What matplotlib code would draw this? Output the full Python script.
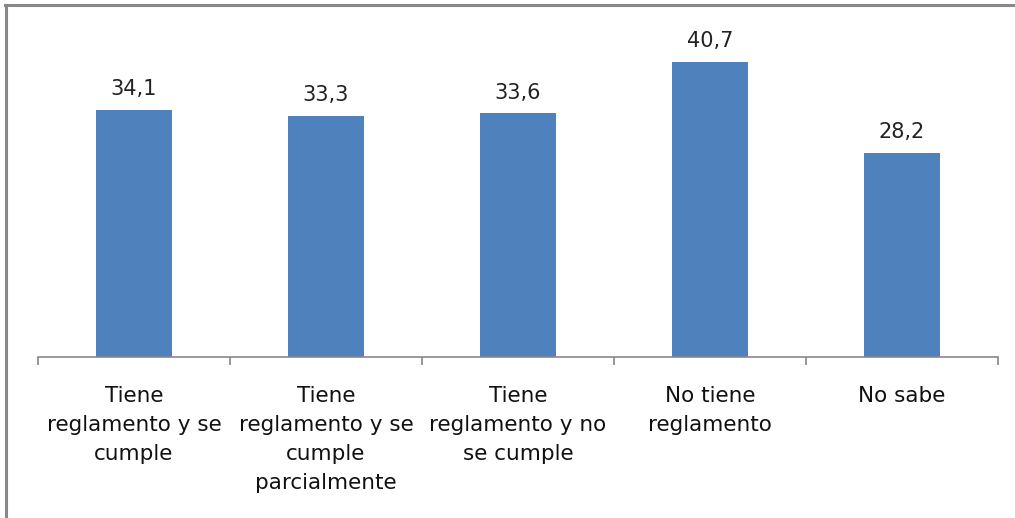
import matplotlib
matplotlib.use("Agg")
import matplotlib.pyplot as plt
from matplotlib.lines import Line2D

categories = ["Tiene\nreglamento y se\ncumple",
              "Tiene\nreglamento y se\ncumple\nparcialmente",
              "Tiene\nreglamento y no\nse cumple",
              "No tiene\nreglamento",
              "No sabe"]
values = [34.1, 33.3, 33.6, 40.7, 28.2]
value_labels = ["34,1", "33,3", "33,6", "40,7", "28,2"]

W, H = 1015, 518
fig = plt.figure(figsize=(W/100, H/100), dpi=100)
plt.rcParams['font.family'] = ['DejaVu Sans']

x0, x1 = 38, 998
ybase = 357
ymax = 45
ytop = ybase - ymax * 7.25
ax = fig.add_axes([x0/W, 1 - ybase/H, (x1-x0)/W, (ybase-ytop)/H])
ax.set_xlim(-0.5, len(values) - 0.5)
ax.set_ylim(0, ymax)
xs = list(range(len(values)))
ax.bar(xs, values, width=0.4, color="#4F81BD", zorder=2)
for x, v, t in zip(xs, values, value_labels):
    ax.text(x, v + 1.5, t, ha="center", va="bottom", fontsize=15, color="#222222")

for s in ["top", "right", "left"]:
    ax.spines[s].set_visible(False)
ax.spines["bottom"].set_color("#888888")
ax.spines["bottom"].set_linewidth(1.2)
ax.set_yticks([])
ax.set_xticks([i - 0.5 for i in range(len(values) + 1)])
ax.set_xticklabels([])
ax.tick_params(axis="x", length=6, color="#888888", width=1.2)
for x, c in zip(xs, categories):
    ax.text(x, -4.0, c, ha="center", va="top", fontsize=15.5, linespacing=1.56,
            color="#111111", transform=ax.transData)

# outer frame
fig.add_artist(Line2D([6/W, 6/W], [0, 1 - 5/H], color="#888888", lw=2.2, transform=fig.transFigure))
fig.add_artist(Line2D([5/W, 1], [1 - 5/H, 1 - 5/H], color="#888888", lw=2.2, transform=fig.transFigure))

fig.savefig("out.png", dpi=100)
